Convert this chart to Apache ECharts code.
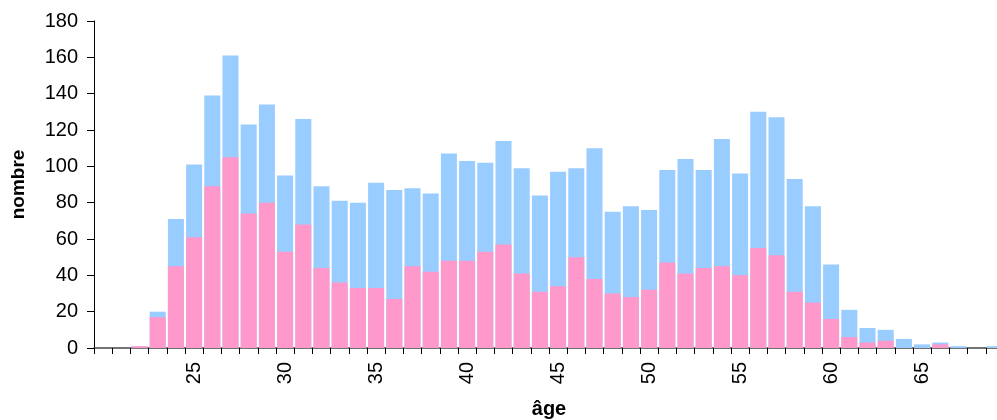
<!DOCTYPE html>
<html>
<head>
<meta charset="utf-8">
<script src="https://cdn.jsdelivr.net/npm/echarts@6/dist/echarts.min.js"></script>
<style>
html,body{margin:0;padding:0;background:#fff;}
#chart{width:997px;height:420px;}
</style>
</head>
<body>
<div id="chart"></div>
<script>
var ages = [];
for (var a = 20; a <= 69; a++) ages.push(String(a));
var totalValues = [0,0,1,20,71,101,139,161,123,134,95,126,89,81,80,91,87,88,85,107,103,102,114,99,84,97,99,110,75,78,76,98,104,98,115,96,130,127,93,78,46,21,11,10,5,2,3,1,0,1];
var womenValues = [0,0,1,17,45,61,89,105,74,80,53,68,44,36,33,33,27,45,42,48,48,53,57,41,31,34,50,38,30,28,32,47,41,44,45,40,55,51,31,25,16,6,3,4,0,0,2,0,0,0];
var xTickLabels = ['25','30','35','40','45','50','55','60','65'];
var yTicks = [0,20,40,60,80,100,120,140,160,180];

var chart = echarts.init(document.getElementById('chart'), null, {renderer:'canvas'});
var font = 'Liberation Sans, Arial, sans-serif';
chart.setOption({
  animation: false,
  backgroundColor: '#fff',
  grid: {left: 94, right: -7, top: 21, bottom: 72, containLabel: false, outerBoundsMode: 'none'},
  xAxis: {
    type: 'category',
    data: ages,
    name: 'âge',
    nameLocation: 'middle',
    nameGap: 51,
    nameTextStyle: {fontFamily: font, fontSize: 20, fontWeight: 'bold', color: '#000', verticalAlign: 'top'},
    axisLine: {show: true, lineStyle: {color: '#444', width: 1.5}},
    axisTick: {show: true, interval: 0, length: 6, lineStyle: {color: '#000'}},
    axisLabel: {
      interval: 0, rotate: 90, margin: 14,
      fontFamily: font, fontSize: 20, color: '#000',
      formatter: function(v){ return xTickLabels.indexOf(v) >= 0 ? v : ''; }
    },
    splitLine: {show: false}
  },
  yAxis: {
    type: 'value',
    min: yTicks[0], max: yTicks[yTicks.length-1], interval: 20,
    name: 'nombre',
    nameLocation: 'middle',
    nameRotate: 90,
    nameGap: 66,
    nameTextStyle: {fontFamily: font, fontSize: 19, fontWeight: 'bold', color: '#000'},
    axisLine: {show: true, lineStyle: {color: '#000', width: 1}},
    axisTick: {show: true, length: 7, lineStyle: {color: '#000'}},
    axisLabel: {margin: 16, fontFamily: font, fontSize: 20, color: '#000'},
    splitLine: {show: false}
  },
  series: [
    {type: 'bar', name: 'total', data: totalValues, itemStyle: {color: '#99CCFF'}, barCategoryGap: '12%', barGap: '-100%'},
    {type: 'bar', name: 'femmes', data: womenValues, itemStyle: {color: '#FF99CC'}, barCategoryGap: '12%', barGap: '-100%'}
  ]
});
</script>
</body>
</html>
